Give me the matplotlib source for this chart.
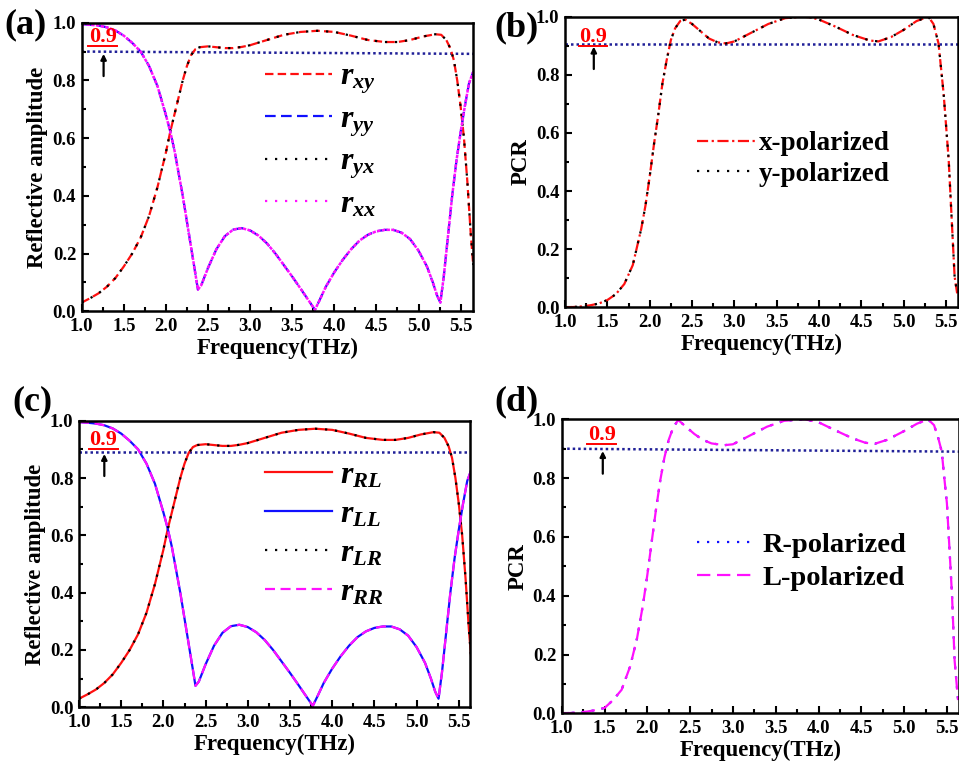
"""
Reflection amplitude / PCR of the converter: 2x2 panels, linear (a,b) and circular (c,d).
"""

import numpy as np
import matplotlib
matplotlib.use("Agg")
import matplotlib.pyplot as plt
from matplotlib.lines import Line2D
from matplotlib.ticker import MultipleLocator

plt.rcParams["font.family"] = ["Liberation Serif", "DejaVu Serif"]
plt.rcParams["font.weight"] = "bold"
plt.rcParams["axes.labelweight"] = "bold"
plt.rcParams["mathtext.fontset"] = "custom"
plt.rcParams["mathtext.it"] = "Liberation Serif:italic:bold"
plt.rcParams["mathtext.rm"] = "Liberation Serif:bold"

# ---- data ----
freq_cross = [1.00, 1.10, 1.20, 1.30, 1.40, 1.50, 1.60, 1.70, 1.80, 1.90,
              2.00, 2.05, 2.10, 2.15, 2.20, 2.25, 2.30, 2.35, 2.40, 2.50,
              2.60, 2.70, 2.80, 2.90, 3.00, 3.20, 3.40, 3.60, 3.80, 4.00,
              4.20, 4.40, 4.60, 4.75, 4.90, 5.05, 5.20, 5.27, 5.33, 5.38,
              5.42, 5.46, 5.50, 5.54, 5.58, 5.62, 5.65]
amp_cross = [0.030, 0.045, 0.062, 0.085, 0.115, 0.155, 0.200, 0.255, 0.330, 0.430,
             0.550, 0.620, 0.680, 0.740, 0.800, 0.850, 0.888, 0.908, 0.915, 0.918,
             0.915, 0.912, 0.912, 0.916, 0.922, 0.940, 0.958, 0.968, 0.972, 0.968,
             0.955, 0.940, 0.933, 0.933, 0.940, 0.952, 0.960, 0.958, 0.940, 0.910,
             0.870, 0.800, 0.710, 0.600, 0.450, 0.270, 0.160]

freq_co = [1.00, 1.10, 1.20, 1.30, 1.40, 1.50, 1.60, 1.70, 1.80, 1.90,
           2.00, 2.05, 2.10, 2.20, 2.30, 2.35, 2.38, 2.42, 2.50, 2.60,
           2.70, 2.80, 2.90, 3.00, 3.10, 3.20, 3.30, 3.40, 3.50, 3.60,
           3.70, 3.77, 3.82, 3.90, 4.00, 4.10, 4.20, 4.30, 4.40, 4.50,
           4.60, 4.70, 4.80, 4.90, 5.00, 5.10, 5.17, 5.22, 5.26, 5.30,
           5.35, 5.40, 5.45, 5.50, 5.55, 5.60, 5.65]
amp_co = [0.995, 0.993, 0.990, 0.984, 0.973, 0.955, 0.930, 0.900, 0.850, 0.780,
          0.680, 0.625, 0.560, 0.400, 0.220, 0.130, 0.075, 0.090, 0.150, 0.215,
          0.260, 0.283, 0.288, 0.280, 0.262, 0.235, 0.200, 0.160, 0.120, 0.078,
          0.035, 0.005, 0.035, 0.085, 0.135, 0.178, 0.215, 0.245, 0.265, 0.277,
          0.282, 0.282, 0.272, 0.250, 0.210, 0.155, 0.100, 0.055, 0.030, 0.120,
          0.260, 0.400, 0.520, 0.620, 0.710, 0.790, 0.830]

freq_pcr_lin = [1.00, 1.10, 1.20, 1.30, 1.40, 1.50, 1.60, 1.70, 1.80, 1.90,
                1.95, 2.00, 2.05, 2.10, 2.15, 2.20, 2.25, 2.30, 2.36, 2.42,
                2.50, 2.60, 2.70, 2.80, 2.90, 3.00, 3.20, 3.40, 3.60, 3.80,
                3.90, 4.00, 4.20, 4.40, 4.60, 4.70, 4.85, 5.00, 5.15, 5.29,
                5.35, 5.41, 5.47, 5.53, 5.57, 5.60, 5.63]
pcr_lin = [0.000, 0.001, 0.003, 0.007, 0.013, 0.025, 0.045, 0.080, 0.145, 0.270,
           0.350, 0.450, 0.560, 0.660, 0.770, 0.850, 0.920, 0.960, 0.985, 0.990,
           0.975, 0.950, 0.925, 0.912, 0.908, 0.915, 0.945, 0.975, 0.995, 1.000,
           0.998, 0.990, 0.965, 0.937, 0.918, 0.915, 0.930, 0.955, 0.985, 1.000,
           0.975, 0.908, 0.736, 0.507, 0.277, 0.105, 0.048]

freq_pcr_circ = [1.00, 1.10, 1.20, 1.30, 1.40, 1.50, 1.60, 1.70, 1.80, 1.88,
                 1.95, 2.00, 2.05, 2.10, 2.15, 2.20, 2.25, 2.30, 2.36, 2.45,
                 2.55, 2.65, 2.75, 2.90, 3.00, 3.20, 3.40, 3.60, 3.84, 4.00,
                 4.20, 4.40, 4.55, 4.66, 4.80, 5.00, 5.15, 5.28, 5.35, 5.40,
                 5.44, 5.47, 5.50, 5.53, 5.56, 5.59, 5.63]
pcr_circ = [0.000, 0.001, 0.003, 0.006, 0.011, 0.018, 0.045, 0.080, 0.160, 0.255,
            0.370, 0.470, 0.580, 0.690, 0.790, 0.870, 0.930, 0.970, 0.998, 0.975,
            0.950, 0.930, 0.918, 0.912, 0.915, 0.945, 0.975, 0.995, 1.000, 0.990,
            0.962, 0.935, 0.920, 0.917, 0.930, 0.960, 0.985, 1.000, 0.980, 0.935,
            0.890, 0.800, 0.715, 0.560, 0.400, 0.180, 0.045]

# 90% threshold guide (start/end level per panel, slightly tilted in the original)
thresh = {"a": (0.900, 0.892), "b": (0.905, 0.905), "c": (0.892, 0.892), "d": (0.900, 0.890)}

RED, BLUE, MAG, NAVY = "#ff1010", "#1010ff", "#ff10ff", "#202098"

W, H = 959, 764
fig = plt.figure(figsize=(W / 100, H / 100), dpi=100)


def px_axes(left, top, x_per_unit, y_span, xmax):
    """Place axes from pixel coords (left edge, top edge, px per THz, px height)."""
    width = (xmax - 1.0) * x_per_unit
    return fig.add_axes([left / W, (H - top - y_span) / H, width / W, y_span / H])


def style_axes(ax, ylabel, xmax):
    ax.set_xlim(1.0, xmax)
    ax.set_ylim(0.0, 1.0)
    ax.xaxis.set_major_locator(MultipleLocator(0.5))
    ax.xaxis.set_minor_locator(MultipleLocator(0.25))
    ax.yaxis.set_major_locator(MultipleLocator(0.2))
    ax.yaxis.set_minor_locator(MultipleLocator(0.1))
    ax.xaxis.set_major_formatter(matplotlib.ticker.FormatStrFormatter("%.1f"))
    ax.yaxis.set_major_formatter(matplotlib.ticker.FormatStrFormatter("%.1f"))
    ax.tick_params(which="both", direction="in", top=False, right=False,
                   labelsize=13.5, width=1.5)
    ax.tick_params(axis="x", pad=5)
    ax.tick_params(axis="y", pad=4)
    ax.tick_params(which="major", length=5)
    ax.tick_params(which="minor", length=3)
    for sp in ax.spines.values():
        sp.set_linewidth(1.8)
    ax.set_xlabel("Frequency(THz)", fontsize=16.5, labelpad=2)
    ax.set_ylabel(ylabel, fontsize=16.5, labelpad=3)


def mark_09(ax, key, xt, yt, xmax):
    y0, y1 = thresh[key]
    ax.plot([1.0, xmax], [y0, y1], color=NAVY, lw=1.8, dashes=(1.0, 1.2), zorder=1)
    ax.text(xt, yt, "0.9", color="red", fontsize=16, fontweight="bold",
            ha="center", va="center")
    ax.plot([xt - 0.17, xt + 0.17], [yt - 0.03, yt - 0.03], color="red", lw=1.4)
    ax.annotate("", xy=(xt + 0.01, y0 - 0.008), xytext=(xt + 0.01, y0 - 0.085),
                arrowprops=dict(arrowstyle="-|>", color="black", lw=1.6,
                                mutation_scale=8, shrinkA=0, shrinkB=0))


LW = 1.6

# ---- (a) linear amplitudes ----
xmax_a = 5.65
ax_a = px_axes(81.7, 22.7, 84.2, 288.5, xmax_a)
ax_a.plot(freq_cross, amp_cross, color=RED, lw=LW, dashes=(3.8, 1.9))
ax_a.plot(freq_co, amp_co, color=BLUE, lw=LW, dashes=(4.8, 2.4))
ax_a.plot(freq_cross, amp_cross, color="black", lw=LW, dashes=(1.0, 3.5))
ax_a.plot(freq_co, amp_co, color=MAG, lw=LW + 0.2, dashes=(1.4, 0.5))
mark_09(ax_a, "a", 1.25, 0.95, xmax_a)
style_axes(ax_a, "Reflective amplitude", xmax_a)
handles_a = [Line2D([], [], color=RED, lw=LW, dashes=(3.8, 1.9)),
             Line2D([], [], color=BLUE, lw=LW, dashes=(4.8, 2.4)),
             Line2D([], [], color="black", lw=LW, dashes=(1.0, 3.5)),
             Line2D([], [], color=MAG, lw=LW, dashes=(1.0, 3.5))]
ax_a.legend(handles_a, [r"$r_{xy}$", r"$r_{yy}$", r"$r_{yx}$", r"$r_{xx}$"],
            loc="upper left", bbox_to_anchor=(0.468, 0.862), frameon=False,
            fontsize=23, handlelength=2.1, handletextpad=0.25, labelspacing=0.27,
            borderpad=0, borderaxespad=0)

# ---- (b) linear PCR ----
xmax_b = 5.64
ax_b = px_axes(565, 16.7, 84.7, 290.6, xmax_b)
ax_b.plot(freq_pcr_lin, pcr_lin, color=RED, lw=LW, dashes=(5.0, 1.6, 1.0, 1.6),
          label="x-polarized")
ax_b.plot(freq_pcr_lin, pcr_lin, color="black", lw=LW, dashes=(1.0, 3.5),
          label="y-polarized")
mark_09(ax_b, "b", 1.33, 0.93, xmax_b)
style_axes(ax_b, "PCR", xmax_b)
ax_b.legend(loc="upper left", bbox_to_anchor=(0.335, 0.605), frameon=False,
            prop=dict(size=19.5, weight="bold"), handlelength=2.2, handletextpad=0.1,
            labelspacing=0.2, borderpad=0, borderaxespad=0)

# ---- (c) circular amplitudes ----
xmax_c = 5.63
ax_c = px_axes(79, 420.7, 84.4, 286.6, xmax_c)
ax_c.plot(freq_cross, amp_cross, color=RED, lw=LW, label=r"$r_{RL}$")
ax_c.plot(freq_co, amp_co, color=BLUE, lw=LW, label=r"$r_{LL}$")
ax_c.plot(freq_cross, amp_cross, color="black", lw=LW, dashes=(1.0, 3.5),
          label=r"$r_{LR}$")
ax_c.plot(freq_co, amp_co, color=MAG, lw=LW, dashes=(4.5, 2.5), label=r"$r_{RR}$")
mark_09(ax_c, "c", 1.29, 0.933, xmax_c)
style_axes(ax_c, "Reflective amplitude", xmax_c)
ax_c.legend(loc="upper left", bbox_to_anchor=(0.476, 0.86), frameon=False,
            fontsize=23, handlelength=2.1, handletextpad=0.25, labelspacing=0.3,
            borderpad=0, borderaxespad=0)

# ---- (d) circular PCR ----
xmax_d = 5.64
ax_d = px_axes(561.7, 419.3, 85.6, 294.0, xmax_d)
ax_d.plot(freq_pcr_circ, pcr_circ, color=BLUE, lw=LW, dashes=(1.0, 3.5),
          label="R-polarized")
ax_d.plot(freq_pcr_circ, pcr_circ, color=MAG, lw=LW, dashes=(6.0, 3.0),
          label="L-polarized")
mark_09(ax_d, "d", 1.47, 0.945, xmax_d)
style_axes(ax_d, "PCR", xmax_d)
ax_d.legend(loc="upper left", bbox_to_anchor=(0.34, 0.618), frameon=False,
            prop=dict(size=20.5, weight="bold"), handlelength=2.0, handletextpad=0.3,
            labelspacing=0.25, borderpad=0, borderaxespad=0)

# panel letters
for lab, x, y in [("(a)", 4, 25), ("(b)", 494, 28), ("(c)", 12, 402), ("(d)", 494, 402)]:
    fig.text(x / W, 1 - y / H, lab, fontsize=26, fontweight="bold", ha="left", va="center")

fig.savefig("out.png", dpi=100)
